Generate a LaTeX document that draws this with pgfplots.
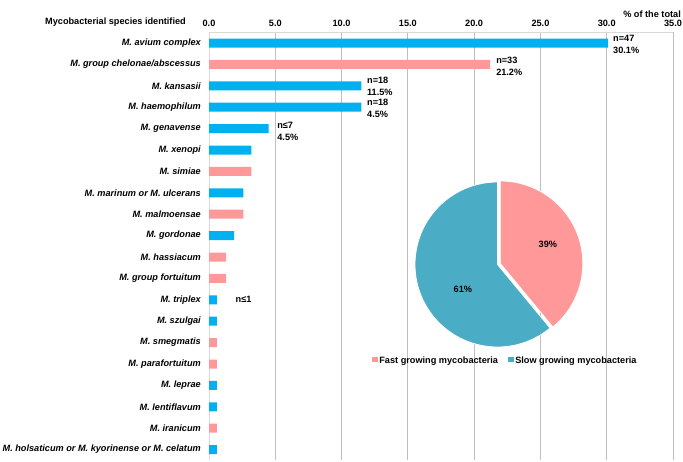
\documentclass[border=0pt]{standalone}
\usepackage{pgfplots}
\pgfplotsset{compat=1.18}
\usepackage{fontspec}
\setmainfont{Liberation Sans}
\usetikzlibrary{calc}
\definecolor{slowblue}{HTML}{00B0F0}
\definecolor{fastpink}{HTML}{FF9999}
\definecolor{pieteal}{HTML}{4BACC6}
\definecolor{gridgray}{HTML}{BFBFBF}
\definecolor{linegray}{HTML}{D9D9D9}
\def\fastpct{39}
\def\slowpct{61}
\begin{document}
\fontsize{9.2}{11.5}\selectfont\bfseries
\begin{tikzpicture}
\useasboundingbox (0,0) rectangle (683bp,462bp);
\begin{axis}[
  at={(209bp,1.7bp)}, anchor=south west,
  width=464bp, height=428bp, scale only axis,
  xbar, bar width=9bp, bar shift=0pt,
  xmin=0, xmax=35, ymin=-0.5, ymax=19.5, y dir=reverse,
  axis x line*=top, axis y line*=left,
  axis line style={draw=linegray, line width=0.8bp, -},
  xtick={0,5,...,35},
  xticklabels={0.0,5.0,10.0,15.0,20.0,25.0,30.0,35.0},
  xticklabel style={anchor=base, inner sep=0pt, yshift=6.3bp},
  ytick={0,...,19},
  yticklabels={M. avium complex,M. group chelonae/abscessus,M. kansasii,M. haemophilum,M. genavense,M. xenopi,M. simiae,M. marinum or M. ulcerans,M. malmoensae,M. gordonae,M. hassiacum,M. group fortuitum,M. triplex,M. szulgai,M. smegmatis,M. parafortuitum,M. leprae,M. lentiflavum,M. iranicum,M. holsaticum or M. kyorinense or M. celatum},
  yticklabel style={anchor=east, inner sep=0pt, xshift=-8bp, font=\bfseries\itshape},
  major tick length=0pt,
  xmajorgrids, major grid style={draw=gridgray, line width=0.8bp},
  clip=false,
]
\addplot[fill=slowblue, draw=none] coordinates {(30.1,0) (11.5,2) (11.5,3) (4.5,4) (3.2,5) (2.6,7) (1.9,9) (0.6,12) (0.6,13) (0.6,16) (0.6,17) (0.6,19)};
\addplot[fill=fastpink, draw=none] coordinates {(21.2,1) (3.2,6) (2.6,8) (1.3,10) (1.3,11) (0.6,14) (0.6,15) (0.6,18)};
\begin{scope}[every node/.style={anchor=west, align=left, inner sep=0pt, font=\fontsize{9.2}{12}\selectfont\bfseries}]
\node[xshift=5bp, yshift=-1bp] at (axis cs:30.1,0) {n=47\\30.1\%};
\node[xshift=6bp, yshift=-2bp] at (axis cs:21.2,1) {n=33\\21.2\%};
\node[xshift=5.5bp, yshift=-1bp] at (axis cs:11.5,2) {n=18\\11.5\%};
\node[xshift=5.5bp, yshift=-1bp] at (axis cs:11.5,3) {n=18\\4.5\%};
\node[xshift=8.5bp, yshift=-3bp] at (axis cs:4.5,4) {n≤7\\4.5\%};
\node at (axis cs:2,12) {n≤1};
\end{scope}
\end{axis}
\begin{axis}[
  at={(497.5bp,197.5bp)}, anchor=center,
  width=165bp, height=165bp, scale only axis,
  hide axis, xmin=-1, xmax=1, ymin=-1, ymax=1, clip=false,
  legend columns=2,
  legend style={at={(-0.2606,-0.085)}, anchor=west, draw=none, fill=none, inner sep=0pt,
    /tikz/every even column/.append style={column sep=8bp}},
]
\addlegendimage{legend image code/.code={\fill[fastpink] (0bp,-0.6bp) rectangle (4.8bp,4.2bp);}}
\addlegendentry{Fast growing mycobacteria}
\addlegendimage{legend image code/.code={\fill[pieteal] (0bp,-0.6bp) rectangle (4.8bp,4.2bp);}}
\addlegendentry{Slow growing mycobacteria}
\pgfmathsetmacro{\fastend}{90-3.6*\fastpct}
\pgfmathsetmacro{\slowend}{\fastend-3.6*\slowpct}
\pgfmathsetmacro{\fastmid}{(90+\fastend)/2}
\fill[pieteal, draw=white, line width=0.8bp] (axis cs:0,0) -- ++(\fastend:82.5bp) arc[start angle=\fastend, end angle=\slowend, radius=82.5bp] -- cycle;
\fill[fastpink, draw=white, line width=0.8bp] ($(axis cs:0,0)+(\fastmid:3bp)$) -- ++(90:82.5bp) arc[start angle=90, end angle=\fastend, radius=82.5bp] -- cycle;
\node at (axis cs:0.61,0.25) {39\%};
\node at (axis cs:-0.42,-0.30) {61\%};
\end{axis}
\node[anchor=base east, inner sep=0pt] at (186bp,437.5bp) {Mycobacterial species identified};
\node[anchor=base east, inner sep=0pt] at (681bp,444bp) {\% of the total};
\end{tikzpicture}
\end{document}
